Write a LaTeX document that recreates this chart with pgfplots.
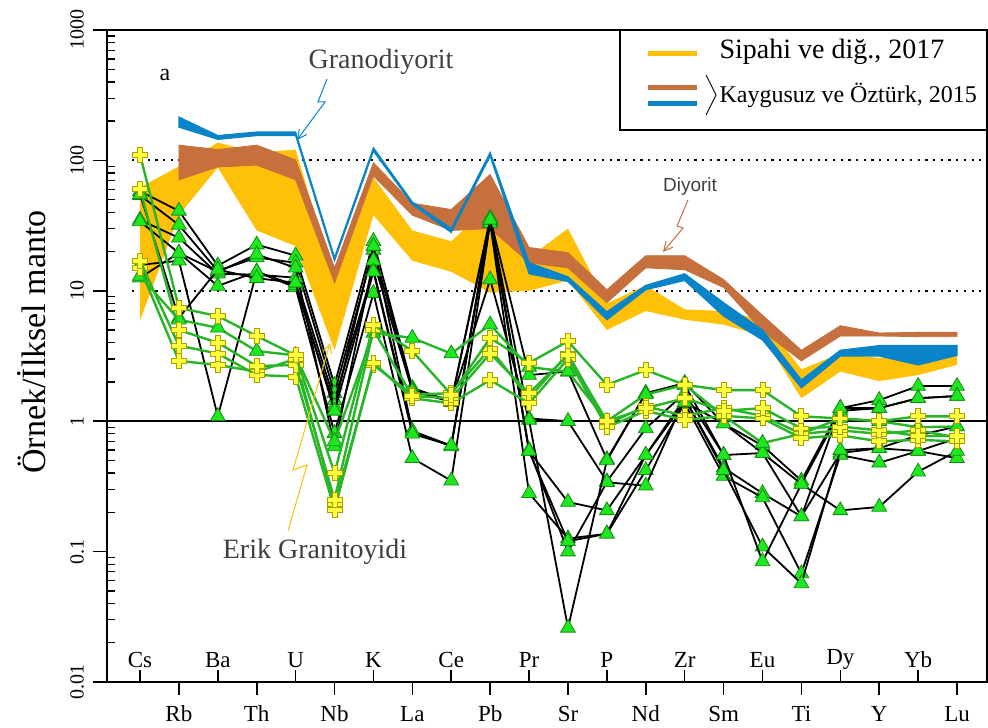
\documentclass[border=0pt]{standalone}
\usepackage{pgfplots}
\pgfplotsset{compat=1.18}
\usepackage{pgfplotstable}
\usepackage{fontspec}
\setmainfont{Liberation Serif}
\newfontfamily\sansf{Liberation Sans}
\usetikzlibrary{arrows.meta}

\definecolor{bandY}{RGB}{255,193,7}
\definecolor{bandB}{RGB}{198,112,62}
\definecolor{bandC}{RGB}{10,132,200}
\definecolor{triF}{RGB}{30,232,30}
\definecolor{triE}{RGB}{20,140,20}
\definecolor{crsF}{RGB}{255,255,60}
\definecolor{crsE}{RGB}{170,160,0}
\definecolor{gline}{RGB}{40,182,40}

\pgfdeclareplotmark{fatplus}{%
  \pgfpathmoveto{\pgfqpoint{-0.33\pgfplotmarksize}{\pgfplotmarksize}}%
  \pgfpathlineto{\pgfqpoint{0.33\pgfplotmarksize}{\pgfplotmarksize}}%
  \pgfpathlineto{\pgfqpoint{0.33\pgfplotmarksize}{0.33\pgfplotmarksize}}%
  \pgfpathlineto{\pgfqpoint{\pgfplotmarksize}{0.33\pgfplotmarksize}}%
  \pgfpathlineto{\pgfqpoint{\pgfplotmarksize}{-0.33\pgfplotmarksize}}%
  \pgfpathlineto{\pgfqpoint{0.33\pgfplotmarksize}{-0.33\pgfplotmarksize}}%
  \pgfpathlineto{\pgfqpoint{0.33\pgfplotmarksize}{-\pgfplotmarksize}}%
  \pgfpathlineto{\pgfqpoint{-0.33\pgfplotmarksize}{-\pgfplotmarksize}}%
  \pgfpathlineto{\pgfqpoint{-0.33\pgfplotmarksize}{-0.33\pgfplotmarksize}}%
  \pgfpathlineto{\pgfqpoint{-\pgfplotmarksize}{-0.33\pgfplotmarksize}}%
  \pgfpathlineto{\pgfqpoint{-\pgfplotmarksize}{0.33\pgfplotmarksize}}%
  \pgfpathlineto{\pgfqpoint{-0.33\pgfplotmarksize}{0.33\pgfplotmarksize}}%
  \pgfpathclose
  \pgfusepathqfillstroke
}

\pgfplotstableread{
x   B1   B2    B3    B4    B5    B6    B7    G5    G1    G2    G3    G4
0   58   54    35    34    15.8  12.6  55    13    111   60    17    15
1   41   32    25.5  19.5  17    19.5  6.2   6     7.4   5     3.8   2.9
2   15.6 14.2  13.5  10.9  1.09  14    14.5  5.2   6.4   4     3.3   2.7
3   22.6 18    13.3  14    14    19    12.5  3.45  4.5   2.65  2.26  2.4
4   18.6 16.4  12.6  10.6  11    15    11.5  3.2   3.2   2.7   2.2   3.0
5   1.9  1.64  1.45  0.81  1.3   0.64  1.2   0.7   0.4   0.25  0.21  0.23
6   24   20.6  14.5  9.6   22    17    14    4.75  5.5   5.0   2.8   2.7
7   1.8  1.73  0.84  0.52  0.84  1.7   0.8   4.35  3.45  1.56  1.5   1.6
8   1.42 1.4   0.65  0.35  0.64  1.42  0.65  3.3   1.6   1.5   1.37  1.64
9   36   35    34    33    36    12.2  35    5.5   4.35  3.3   2.07  3.6
10  2.26 1.05  0.59  0.28  0.6   1.02  0.59  2.6   2.8   1.64  1.37  1.5
11  2.4  1.0   0.24  0.126 0.1   0.026 0.12  2.4   4.1   3.2   3.0   3.3
12  0.51 0.345 0.207 0.137 0.34  0.5   0.137 1.0   1.9   1.0   0.9   0.95
13  1.64 0.88  0.55  0.42  0.32  1.64  0.55  1.6   2.47  1.26  1.2   1.3
14  1.96 1.64  1.5   1.37  1.5   1.9   1.4   1.9   1.9   1.5   1.02  1.1
15  0.96 0.55  0.44  0.38  0.42  0.55  0.96  1.1   1.73  1.2   1.1   1.26
16  0.65 0.57  0.28  0.26  0.109 0.084 0.57  0.68  1.73  1.26  1.05  1.1
17  0.35 0.33  0.186 0.068 0.057 0.33  0.186 0.8   1.09  0.88  0.74  0.8
18  1.26 1.2   0.57  0.55  0.6   0.207 1.26  1.05  1.05  0.91  0.78  0.85
19  1.45 1.26  0.62  0.48  0.62  0.22  1.26  1.0   1.0   0.85  0.70  0.8
20  1.86 1.5   0.78  0.59  0.59  0.41  1.5   0.9   1.09  0.77  0.72  0.85
21  1.86 1.56  0.91  0.74  0.52  0.59  1.56  0.91  1.09  0.77  0.70  0.75
}\samples

\newcommand\tl{\fontsize{23}{27}\selectfont}
\newcommand\yl{\fontsize{20}{24}\selectfont}

\begin{document}
\begin{tikzpicture}
\useasboundingbox (0,0) rectangle (988pt,728pt);
\begin{axis}[
  at={(107pt,46pt)}, anchor=south west,
  scale only axis, width=880pt, height=652pt,
  ymode=log, ymin=0.01, ymax=1000,
  xmin=-0.848, xmax=21.77,
  xtick=\empty,
  ytick={0.01,0.1,1,10,100,1000},
  minor ytick={0.02,0.03,0.04,0.05,0.06,0.07,0.08,0.09,0.2,0.3,0.4,0.5,0.6,0.7,0.8,0.9,2,3,4,5,6,7,8,9,20,30,40,50,60,70,80,90,200,300,400,500,600,700,800,900},
  yticklabels={},
  yticklabel style={opacity=0},
  ytick pos=left,
  tick align=outside,
  major tick length=14pt, minor tick length=8pt,
  every tick/.append style={black, line width=1.6pt},
  every minor tick/.append style={black, line width=1.3pt},
  minor y tick style={xshift=8pt},
  axis line style={line width=1.2pt},
  clip mode=individual,
  blk/.style={black, line width=1.8pt, mark=triangle*, mark size=8.5pt,
     mark options={solid, fill=triF, draw=triE, line width=0.8pt}},
  grt/.style={gline, line width=2.4pt, mark=triangle*, mark size=8.5pt,
     mark options={solid, fill=triF, draw=triE, line width=0.8pt}},
  grn/.style={gline, line width=2.4pt, mark=fatplus, mark size=7.5pt,
     mark options={solid, fill=crsF, draw=crsE, line width=0.9pt}},
]
% reference lines
\draw[line width=1.6pt] (axis cs:-0.848,1) -- (axis cs:21.77,1);
\draw[line width=2.2pt, dash pattern=on 2.2pt off 5.5pt] (axis cs:-0.2,10) -- (axis cs:21.77,10);
\draw[line width=2.2pt, dash pattern=on 2.2pt off 5.5pt] (axis cs:-0.2,100) -- (axis cs:21.77,100);

% Sipahi et al. 2017 (yellow band)
\addplot[fill=bandY, draw=none] coordinates {
 (0,62)(1,90)(2,137)(3,115)(4,121)(5,12)(6,74)(7,29)(8,24)(9,45)(10,18)(11,30)
 (12,8)(13,11)(14,7.2)(15,7)(16,6)(17,2.5)(18,3.3)(19,3.05)(20,3.3)(21,3.3)
 (21,2.7)(20,2.26)(19,2.03)(18,2.4)(17,1.5)(16,4.5)(15,5.5)(14,6)(13,7)(12,5)
 (11,12)(10,10)(9,9.7)(8,14)(7,17)(6,38)(5,3.5)(4,22)(3,29)(2,88)(1,38)(0,5.9)
} -- cycle;
% Kaygusuz ve Ozturk 2015 diorite (brown band)
\addplot[fill=bandB, draw=bandB, line width=0.8pt] coordinates {
 (1,131)(2,121)(3,131)(4,101)(5,15)(6,96)(7,47)(8,42)(9,78)(10,21.5)(11,19.6)
 (12,10.2)(13,18.6)(14,18.6)(15,12.2)(16,6.5)(17,3.5)(18,5.4)(19,4.75)(20,4.8)(21,4.8)
 (21,4.45)(20,4.45)(19,4.5)(18,4.5)(17,2.9)(16,4.9)(15,10.6)(14,14.5)(13,15)(12,8.1)
 (11,15)(10,16.4)(9,30)(8,29)(7,38)(6,76)(5,11.5)(4,71)(3,92)(2,89)(1,71)
} -- cycle;
% granodiorite (blue band)
\addplot[fill=bandC, draw=bandC, line width=1.2pt] coordinates {
 (1,215)(2,155)(3,165)(4,165)(5,18)(6,125)(7,48)(8,30)(9,115)(10,16.4)(11,12.8)
 (12,6.9)(13,11)(14,13.5)(15,8.1)(16,5.0)(17,2.07)(18,3.5)(19,3.8)(20,3.8)(21,3.8)
 (21,3.2)(20,2.7)(19,3.16)(18,3.16)(17,1.8)(16,4.2)(15,6.4)(14,12)(13,10.2)(12,6.0)
 (11,11.8)(10,13.5)(9,108)(8,28)(7,46)(6,118)(5,17)(4,155)(3,155)(2,145)(1,180)
} -- cycle;

% samples: triangles with black lines
\addplot[blk] table[x=x,y=B1] {\samples};
\addplot[blk] table[x=x,y=B2] {\samples};
\addplot[blk] table[x=x,y=B3] {\samples};
\addplot[blk] table[x=x,y=B4] {\samples};
\addplot[blk] table[x=x,y=B5] {\samples};
\addplot[blk] table[x=x,y=B6] {\samples};
\addplot[blk] table[x=x,y=B7] {\samples};
% green-line samples
\addplot[grt] table[x=x,y=G5] {\samples};
\addplot[grn] table[x=x,y=G4] {\samples};
\addplot[grn] table[x=x,y=G3] {\samples};
\addplot[grn] table[x=x,y=G2] {\samples};
\addplot[grn] table[x=x,y=G1] {\samples};

% thick left and bottom axis lines
\draw[line width=2.2pt] (rel axis cs:0,0) -- (rel axis cs:0,1);
\draw[line width=2.2pt] (rel axis cs:0,0) -- (rel axis cs:1,0);

% x ticks
\pgfplotsinvokeforeach{0,2,4,6,8,10,12,14,16,18,20}{
  \draw[line width=1.6pt] (axis cs:#1,0.01) -- ++(0pt,12pt);}
\pgfplotsinvokeforeach{1,3,5,7,9,11,13,15,17,19,21}{
  \draw[line width=1.6pt] (axis cs:#1,0.01) -- ++(0pt,-13pt);}

% upper element labels
\node[anchor=base,font=\tl] at ([yshift=15pt]axis cs:0,0.01) {Cs};
\node[anchor=base,font=\tl] at ([yshift=15pt]axis cs:2,0.01) {Ba};
\node[anchor=base,font=\tl] at ([yshift=15pt]axis cs:4,0.01) {U};
\node[anchor=base,font=\tl] at ([yshift=15pt]axis cs:6,0.01) {K};
\node[anchor=base,font=\tl] at ([yshift=15pt]axis cs:8,0.01) {Ce};
\node[anchor=base,font=\tl] at ([yshift=15pt]axis cs:10,0.01) {Pr};
\node[anchor=base,font=\tl] at ([yshift=15pt]axis cs:12,0.01) {P};
\node[anchor=base,font=\tl] at ([yshift=15pt]axis cs:14,0.01) {Zr};
\node[anchor=base,font=\tl] at ([yshift=15pt]axis cs:16,0.01) {Eu};
\node[anchor=base,font=\tl] at ([yshift=18pt]axis cs:18,0.01) {Dy};
\node[anchor=base,font=\tl] at ([yshift=15pt]axis cs:20,0.01) {Yb};
% lower element labels
\node[anchor=base,font=\tl] at ([yshift=-39pt]axis cs:1,0.01) {Rb};
\node[anchor=base,font=\tl] at ([yshift=-39pt]axis cs:3,0.01) {Th};
\node[anchor=base,font=\tl] at ([yshift=-39pt]axis cs:5,0.01) {Nb};
\node[anchor=base,font=\tl] at ([yshift=-39pt]axis cs:7,0.01) {La};
\node[anchor=base,font=\tl] at ([yshift=-39pt]axis cs:9,0.01) {Pb};
\node[anchor=base,font=\tl] at ([yshift=-39pt]axis cs:11,0.01) {Sr};
\node[anchor=base,font=\tl] at ([yshift=-39pt]axis cs:13,0.01) {Nd};
\node[anchor=base,font=\tl] at ([yshift=-39pt]axis cs:15,0.01) {Sm};
\node[anchor=base,font=\tl] at ([yshift=-39pt]axis cs:17,0.01) {Ti};
\node[anchor=base,font=\tl] at ([yshift=-39pt]axis cs:19,0.01) {Y};
\node[anchor=base,font=\tl] at ([yshift=-39pt]axis cs:21,0.01) {Lu};

% y tick labels (rotated)
\node[rotate=90,font=\yl] at ([xshift=-30pt]axis cs:-0.848,1000) {1000};
\node[rotate=90,font=\yl] at ([xshift=-30pt]axis cs:-0.848,100) {100};
\node[rotate=90,font=\yl] at ([xshift=-30pt]axis cs:-0.848,10) {10};
\node[rotate=90,font=\yl] at ([xshift=-30pt]axis cs:-0.848,1) {1};
\node[rotate=90,font=\yl] at ([xshift=-30pt]axis cs:-0.848,0.1) {0.1};
\node[rotate=90,font=\yl] at ([xshift=-30pt]axis cs:-0.848,0.01) {0.01};
\end{axis}

% axis title
\node[rotate=90,font=\fontsize{34}{40}\selectfont] at (32pt,386pt) {Örnek/İlksel manto};

% panel letter
\node[font=\fontsize{24}{28}\selectfont] at (165pt,653pt) {a};

% annotations
\node[font=\fontsize{28}{32}\selectfont, text=black!75] at (381pt,666pt) {Granodiyorit};
\draw[bandC, line width=1pt, -{Straight Barb[length=9pt,width=9pt]}]
  (327pt,649pt) -- (318pt,626pt) -- (325pt,626pt) -- (297pt,588pt);

\node[font=\sansf\fontsize{19}{22}\selectfont, text=black!75] at (690pt,541pt) {Diyorit};
\draw[bandB, line width=1pt, -{Straight Barb[length=9pt,width=9pt]}]
  (688pt,528pt) -- (677pt,502pt) -- (683pt,500pt) -- (663pt,476pt);

\node[font=\fontsize{28}{32}\selectfont, text=black!75] at (315pt,176pt) {Erik Granitoyidi};
\draw[bandY, line width=1pt, -{Straight Barb[length=9pt,width=9pt]}]
  (288pt,197pt) -- (307pt,263pt) -- (293pt,258pt) -- (330pt,385pt);

% legend
\draw[line width=1.2pt, fill=white] (620pt,598pt) rectangle (987pt,698pt);
\draw[bandY, line width=5pt] (648pt,674pt) -- (697pt,674pt);
\draw[bandB, line width=5pt] (648pt,640pt) -- (697pt,640pt);
\draw[bandC, line width=5pt] (648pt,624pt) -- (697pt,624pt);
\draw[line width=0.9pt] (706pt,653pt) -- (716pt,633pt) -- (706pt,613pt);
\node[anchor=west, font=\fontsize{28}{32}\selectfont] at (716pt,676pt) {Sipahi ve diğ., 2017};
\node[anchor=west, font=\fontsize{24}{28}\selectfont] at (716pt,633pt) {Kaygusuz ve Öztürk, 2015};
\end{tikzpicture}
\end{document}
